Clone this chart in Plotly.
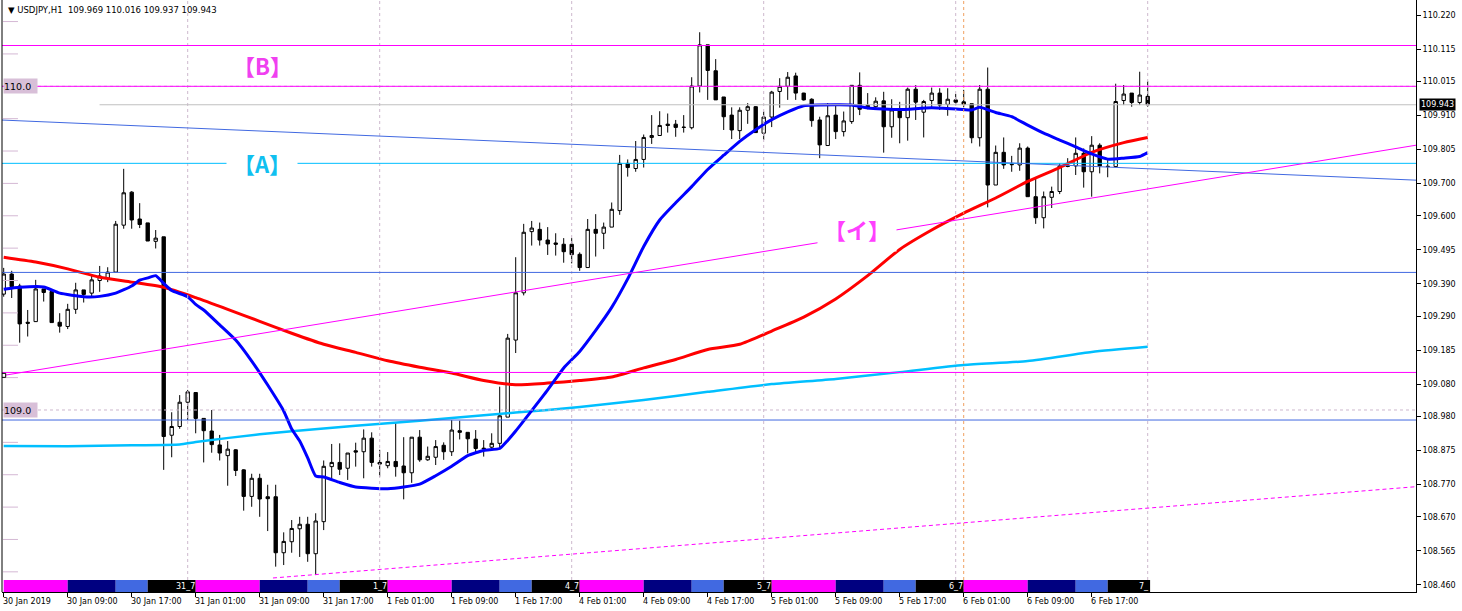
import plotly.graph_objects as go

# ---------------- data ----------------
BARS = list(range(144))  # H1 bars: 0 = 30 Jan 01:00 ... 143 = 7 Feb 00:00

OPEN = [109.358, 109.420, 109.383, 109.271, 109.273, 109.374, 109.366, 109.271, 109.258, 109.311,
        109.371, 109.361, 109.400, 109.407, 109.426, 109.571, 109.673, 109.590, 109.578, 109.521,
        109.535, 108.922, 108.949, 109.024, 109.054, 108.974, 108.935, 108.892, 108.859, 108.877,
        108.815, 108.733, 108.789, 108.732, 108.732, 108.559, 108.593, 108.633, 108.647, 108.556,
        108.655, 108.825, 108.838, 108.820, 108.874, 108.871, 108.913, 108.838, 108.828, 108.841,
        108.827, 108.806, 108.916, 108.846, 108.854, 108.891, 108.871, 108.936, 108.931, 108.910,
        108.882, 108.885, 108.897, 108.978, 109.216, 109.362, 109.551, 109.558, 109.525, 109.516,
        109.512, 109.512, 109.481, 109.440, 109.558, 109.546, 109.565, 109.616, 109.762, 109.746,
        109.774, 109.842, 109.848, 109.883, 109.883, 109.874, 109.872, 110.001, 110.128, 110.048,
        109.967, 109.911, 109.863, 109.926, 109.937, 109.855, 109.905, 109.984, 110.000, 110.032,
        109.979, 109.960, 109.896, 109.817, 109.911, 109.860, 109.891, 110.003, 109.941, 109.937,
        109.955, 109.875, 109.927, 109.903, 109.991, 109.920, 109.956, 109.979, 109.944, 109.958,
        109.952, 109.946, 109.841, 109.991, 109.695, 109.796, 109.759, 109.757, 109.809, 109.659,
        109.594, 109.657, 109.675, 109.754, 109.754, 109.793, 109.736, 109.818, 109.753, 109.752,
        109.956, 109.979, 109.950, 109.969]
HIGH = [109.439, 109.430, 109.390, 109.309, 109.402, 109.374, 109.366, 109.299, 109.328, 109.393,
        109.371, 109.417, 109.445, 109.441, 109.584, 109.745, 109.676, 109.639, 109.578, 109.556,
        109.535, 108.993, 109.046, 109.062, 109.054, 108.974, 109.000, 108.923, 108.904, 108.879,
        108.817, 108.803, 108.803, 108.769, 108.769, 108.622, 108.660, 108.670, 108.670, 108.681,
        108.844, 108.895, 108.897, 108.867, 108.899, 108.940, 108.931, 108.877, 108.870, 108.961,
        108.916, 108.916, 108.938, 108.887, 108.907, 108.900, 108.969, 108.967, 108.931, 108.938,
        108.907, 108.928, 109.072, 109.235, 109.472, 109.575, 109.584, 109.579, 109.565, 109.546,
        109.531, 109.531, 109.487, 109.590, 109.605, 109.579, 109.641, 109.788, 109.774, 109.831,
        109.851, 109.911, 109.923, 109.916, 109.896, 109.911, 110.028, 110.167, 110.128, 110.084,
        109.967, 109.935, 109.935, 109.948, 109.939, 109.922, 109.986, 110.025, 110.044, 110.042,
        109.980, 109.963, 109.906, 109.948, 109.942, 109.922, 110.003, 110.043, 109.979, 109.966,
        109.983, 109.960, 109.952, 109.996, 110.004, 109.958, 109.996, 109.994, 109.994, 109.976,
        109.989, 109.946, 110.004, 110.058, 109.817, 109.842, 109.785, 109.824, 109.814, 109.716,
        109.675, 109.690, 109.762, 109.778, 109.842, 109.808, 109.846, 109.824, 109.772, 110.008,
        110.004, 109.979, 110.045, 110.016]
LOW = [109.350, 109.346, 109.208, 109.227, 109.272, 109.335, 109.270, 109.239, 109.250, 109.297,
       109.332, 109.350, 109.365, 109.395, 109.426, 109.560, 109.560, 109.562, 109.522, 109.499,
       108.815, 108.854, 108.942, 108.969, 108.928, 108.838, 108.868, 108.844, 108.766, 108.796,
       108.689, 108.701, 108.670, 108.626, 108.516, 108.521, 108.559, 108.546, 108.531, 108.490,
       108.629, 108.787, 108.799, 108.784, 108.825, 108.789, 108.825, 108.794, 108.820, 108.794,
       108.724, 108.775, 108.840, 108.843, 108.830, 108.846, 108.858, 108.909, 108.866, 108.866,
       108.856, 108.879, 108.879, 108.978, 109.176, 109.354, 109.508, 109.508, 109.479, 109.477,
       109.455, 109.453, 109.430, 109.440, 109.474, 109.497, 109.565, 109.603, 109.721, 109.736,
       109.749, 109.822, 109.848, 109.857, 109.844, 109.857, 109.867, 109.981, 109.958, 109.958,
       109.865, 109.837, 109.837, 109.884, 109.857, 109.834, 109.874, 109.934, 109.958, 109.958,
       109.956, 109.875, 109.778, 109.817, 109.837, 109.845, 109.884, 109.911, 109.929, 109.932,
       109.795, 109.841, 109.824, 109.832, 109.896, 109.842, 109.935, 109.927, 109.909, 109.942,
       109.935, 109.824, 109.814, 109.626, 109.695, 109.745, 109.736, 109.739, 109.659, 109.575,
       109.561, 109.624, 109.667, 109.750, 109.726, 109.687, 109.659, 109.731, 109.719, 109.750,
       109.942, 109.937, 109.942, 109.937]
CLOSE = [109.420, 109.381, 109.266, 109.268, 109.374, 109.363, 109.270, 109.259, 109.311, 109.371,
         109.357, 109.402, 109.414, 109.426, 109.574, 109.671, 109.587, 109.573, 109.522, 109.531,
         108.918, 108.949, 109.024, 109.056, 108.974, 108.936, 108.893, 108.867, 108.879, 108.813,
         108.733, 108.789, 108.725, 108.726, 108.559, 108.594, 108.634, 108.647, 108.556, 108.657,
         108.826, 108.838, 108.817, 108.867, 108.870, 108.913, 108.838, 108.833, 108.841, 108.825,
         108.806, 108.916, 108.846, 108.857, 108.887, 108.871, 108.938, 108.931, 108.911, 108.881,
         108.880, 108.897, 108.982, 109.222, 109.362, 109.549, 109.562, 109.525, 109.513, 109.512,
         109.489, 109.480, 109.440, 109.558, 109.546, 109.565, 109.620, 109.762, 109.749, 109.774,
         109.842, 109.848, 109.879, 109.879, 109.873, 109.873, 110.001, 110.128, 110.049, 109.958,
         109.906, 109.865, 109.926, 109.937, 109.857, 109.905, 109.982, 110.000, 110.028, 109.979,
         109.958, 109.894, 109.819, 109.909, 109.860, 109.893, 110.003, 109.929, 109.937, 109.954,
         109.875, 109.927, 109.903, 109.991, 109.951, 109.953, 109.979, 109.942, 109.960, 109.951,
         109.944, 109.841, 109.991, 109.695, 109.796, 109.757, 109.758, 109.809, 109.659, 109.594,
         109.659, 109.675, 109.754, 109.753, 109.793, 109.736, 109.818, 109.754, 109.752, 109.953,
         109.976, 109.950, 109.973, 109.943]

# moving averages at selected bars
RED_BARS = [0, 4, 8, 12, 16, 20, 24, 28, 32, 36, 40, 44, 48, 52, 56, 60, 64, 68, 72, 76, 80, 84,
            88, 92, 96, 100, 104, 108, 112, 116, 120, 124, 128, 132, 136, 140, 143]
RED_MA = [109.472, 109.457, 109.436, 109.410, 109.395, 109.379, 109.347, 109.311, 109.274, 109.237,
          109.203, 109.178, 109.152, 109.132, 109.114, 109.091, 109.078, 109.083, 109.091, 109.102,
          109.130, 109.156, 109.187, 109.203, 109.244, 109.287, 109.343, 109.415, 109.496, 109.556,
          109.608, 109.655, 109.706, 109.749, 109.796, 109.826, 109.842]

BLUE_BARS = [0, 2, 5, 7, 10, 12, 14, 16, 17, 18, 19, 20, 21, 23, 24, 25, 27, 29, 31, 33, 35, 36,
             37, 38, 39, 40, 42, 44, 48, 50, 52, 54, 56, 58, 60, 62, 63, 64, 66, 68, 70, 72, 74,
             76, 78, 80, 82, 84, 86, 88, 90, 92, 94, 96, 98, 100, 104, 106, 108, 112, 116, 120,
             121, 122, 124, 126, 128, 130, 132, 134, 136, 138, 140, 142, 143]
BLUE_MA = [109.373, 109.379, 109.380, 109.361, 109.350, 109.351, 109.361, 109.383, 109.401, 109.408,
           109.415, 109.391, 109.369, 109.350, 109.326, 109.309, 109.263, 109.216, 109.151, 109.077,
           108.997, 108.941, 108.904, 108.852, 108.796, 108.793, 108.776, 108.762, 108.757, 108.762,
           108.771, 108.797, 108.826, 108.859, 108.875, 108.881, 108.906, 108.935, 108.998, 109.062,
           109.130, 109.181, 109.246, 109.317, 109.405, 109.505, 109.587, 109.640, 109.690, 109.743,
           109.787, 109.830, 109.866, 109.897, 109.921, 109.940, 109.943, 109.942, 109.933, 109.928,
           109.934, 109.928, 109.927, 109.935, 109.919, 109.906, 109.880, 109.855, 109.834, 109.813,
           109.791, 109.775, 109.778, 109.783, 109.795]

CYAN_BARS = [0, 8, 16, 22, 24, 32, 40, 48, 56, 64, 72, 80, 88, 96, 104, 112, 120, 128, 136, 143]
CYAN_MA = [108.889, 108.888, 108.891, 108.893, 108.901, 108.925, 108.943, 108.959, 108.975, 108.992,
           109.009, 109.031, 109.056, 109.080, 109.096, 109.117, 109.139, 109.151, 109.179, 109.195]

X_TICK_BARS = list(range(0, 137, 8))
X_TICK_LABELS = ["30 Jan 2019", "30 Jan 09:00", "30 Jan 17:00", "31 Jan 01:00", "31 Jan 09:00",
                 "31 Jan 17:00", "1 Feb 01:00", "1 Feb 09:00", "1 Feb 17:00", "4 Feb 01:00",
                 "4 Feb 09:00", "4 Feb 17:00", "5 Feb 01:00", "5 Feb 09:00", "5 Feb 17:00",
                 "6 Feb 01:00", "6 Feb 09:00", "6 Feb 17:00"]
Y_TICK_LABELS = ["110.220", "110.115", "110.015", "109.910", "109.805", "109.700", "109.600",
                 "109.495", "109.390", "109.290", "109.185", "109.080", "108.980", "108.875",
                 "108.770", "108.670", "108.565", "108.460"]
Y_TICK_VALUES = [float(s) for s in Y_TICK_LABELS]

TITLE = "\u25bc USDJPY,H1\u00a0\u00a0109.969 110.016 109.937 109.943"
BID = 109.943

# horizontal objects: (price, colour)
H_LINES = [(110.126, "#FF00FF"), (110.000, "#FF00FF"), (109.762, "#00BFFF"),
           (109.425, "#4169E1"), (109.116, "#FF00FF"), (108.969, "#4169E1")]
GRID_LEVELS = [110.0, 109.0]
MINOR_LEVELS = [110.2, 110.1, 109.9, 109.8, 109.7, 109.6, 109.5, 109.4, 109.3, 109.2, 109.1,
                108.9, 108.8, 108.7, 108.6, 108.5]
# trend lines: (bar0, price0, bar1, price1, colour, dash)
TRENDS = [(-0.46, 109.896, 176.54, 109.710, "#4169E1", "solid"),
          (-0.46, 109.105, 176.54, 109.818, "#FF00FF", "solid"),
          (33.66, 108.481, 176.54, 108.763, "#FF00FF", "4px,3px")]
DAY_SEP_BARS = [23, 47, 71, 95, 119, 143]
VLINE_BAR = 120

SESSION_BLOCKS = [(0, 8, "#FF00FF"), (8, 14, "#000080"), (14, 18, "#4169E1"), (18, 24, "#000000"),
                  (24, 32, "#FF00FF"), (32, 38, "#000080"), (38, 42, "#4169E1"), (42, 48, "#000000"),
                  (48, 56, "#FF00FF"), (56, 62, "#000080"), (62, 66, "#4169E1"), (66, 72, "#000000"),
                  (72, 80, "#FF00FF"), (80, 86, "#000080"), (86, 90, "#4169E1"), (90, 96, "#000000"),
                  (96, 104, "#FF00FF"), (104, 110, "#000080"), (110, 114, "#4169E1"), (114, 120, "#000000"),
                  (120, 128, "#FF00FF"), (128, 134, "#000080"), (134, 138, "#4169E1"), (138, 143.3, "#000000")]
SESSION_LABELS = [(24, "31_7"), (48, "1_7"), (72, "4_7"), (96, "5_7"), (120, "6_7"), (143.3, "7_")]

# ---------------- figure ----------------
W, H = 1462, 611
ML, MR, MT, MB = 2, 46, 0, 19
X_RANGE = [-0.2125, 176.5375]
Y_RANGE = [108.4377, 110.2666]
FONT = "DejaVu Sans"

fig = go.Figure()

fig.add_trace(go.Candlestick(
    x=BARS, open=OPEN, high=HIGH, low=LOW, close=CLOSE,
    increasing=dict(fillcolor="#FFFFFF", line=dict(color="#000000", width=1)),
    decreasing=dict(fillcolor="#000000", line=dict(color="#000000", width=1)),
    whiskerwidth=0, showlegend=False, hoverinfo="skip"))

fig.add_trace(go.Scatter(x=CYAN_BARS, y=CYAN_MA, mode="lines",
                         line=dict(color="#00BFFF", width=2.5, shape="spline", smoothing=0.6),
                         showlegend=False, hoverinfo="skip"))
fig.add_trace(go.Scatter(x=RED_BARS, y=RED_MA, mode="lines",
                         line=dict(color="#FF0000", width=3, shape="spline", smoothing=0.6),
                         showlegend=False, hoverinfo="skip"))
fig.add_trace(go.Scatter(x=BLUE_BARS, y=BLUE_MA, mode="lines",
                         line=dict(color="#0000FF", width=3, shape="spline", smoothing=0.5),
                         showlegend=False, hoverinfo="skip"))

shapes = []
# day separators and grid
for b in DAY_SEP_BARS:
    shapes.append(dict(type="line", xref="x", yref="paper", x0=b, x1=b, y0=0, y1=1,
                       line=dict(color="#CDB8CD", width=1, dash="3px,3px")))
shapes.append(dict(type="line", xref="x", yref="paper", x0=VLINE_BAR, x1=VLINE_BAR, y0=0, y1=1,
                   line=dict(color="#F0A060", width=1, dash="3px,3px")))
for lv in GRID_LEVELS:
    shapes.append(dict(type="line", xref="paper", yref="y", x0=0, x1=1, y0=lv, y1=lv,
                       line=dict(color="#CDB8CD", width=1, dash="3px,3px")))
for lv in MINOR_LEVELS:
    shapes.append(dict(type="line", xref="paper", yref="y", x0=0.0007, x1=0.0113, y0=lv, y1=lv,
                       line=dict(color="#D4B8D4", width=1)))
# bid line
shapes.append(dict(type="line", xref="paper", yref="y", x0=0.069, x1=1, y0=BID, y1=BID,
                   line=dict(color="#C0C0C0", width=1)))
# horizontal objects
for lv, col in H_LINES:
    shapes.append(dict(type="line", xref="paper", yref="y", x0=0, x1=1, y0=lv, y1=lv,
                       line=dict(color=col, width=1)))
# trend lines
for b0, p0, b1, p1, col, dash in TRENDS:
    shapes.append(dict(type="line", xref="x", yref="y", x0=b0, x1=b1, y0=p0, y1=p1,
                       line=dict(color=col, width=1, dash=dash)))
# trend-line anchor squares
for b, p in [(0.0, 109.107)]:
    shapes.append(dict(type="rect", xref="x", yref="y", xsizemode="pixel", ysizemode="pixel",
                       xanchor=b, yanchor=p, x0=-2, x1=2, y0=-2, y1=2,
                       fillcolor="#FFFFFF", line=dict(color="#000000", width=1)))
# session strip
strip_h = 12 / 592
for b0, b1, col in SESSION_BLOCKS:
    shapes.append(dict(type="rect", xref="x", yref="paper", x0=b0, x1=b1, y0=0, y1=strip_h,
                       fillcolor=col, line=dict(width=0), layer="above"))
# left border
shapes.append(dict(type="line", xref="paper", yref="paper", x0=0, x1=0, y0=0, y1=1,
                   line=dict(color="#000000", width=1)))

annotations = []
annotations.append(dict(text=TITLE, xref="paper", yref="paper", x=0, y=1, xanchor="left",
                        yanchor="top", xshift=4, yshift=-3, showarrow=False,
                        font=dict(family=FONT, size=8.5, color="#000000")))
for b, lab in zip(X_TICK_BARS, X_TICK_LABELS):
    annotations.append(dict(text=lab, xref="x", yref="paper", x=b, y=0, xanchor="left",
                            yanchor="top", xshift=-3, yshift=-3, showarrow=False,
                            font=dict(family=FONT, size=8, color="#000000")))
for b, lab in SESSION_LABELS:
    annotations.append(dict(text=lab, xref="x", yref="paper", x=b, y=strip_h / 2, xanchor="right",
                            yanchor="middle", xshift=1, showarrow=False,
                            font=dict(family=FONT, size=8, color="#FFFFFF")))
for lv in GRID_LEVELS:
    annotations.append(dict(text="%.1f" % lv, xref="paper", yref="y", x=0, y=lv, xanchor="left",
                            yanchor="middle", xshift=1, showarrow=False, width=33, height=14,
                            align="left", bgcolor="#D8BFD8", borderpad=0,
                            font=dict(family=FONT, size=9.5, color="#000000")))
annotations.append(dict(text="%.3f" % BID, xref="paper", yref="y", x=1, y=BID, xanchor="left",
                        yanchor="middle", xshift=3, showarrow=False, bgcolor="#000000",
                        borderpad=1, font=dict(family=FONT, size=8, color="#FFFFFF")))
CJK = "Noto Sans CJK JP"
annotations.append(dict(text="<b>【B】</b>", xref="x", yref="y", x=32.4, y=110.066, showarrow=False,
                        font=dict(family=CJK, size=22, color="#F040F0")))
annotations.append(dict(text="<b>【A】</b>", xref="x", yref="y", x=32.3, y=109.762, showarrow=False,
                        bgcolor="#FFFFFF", borderpad=6,
                        font=dict(family=CJK, size=22, color="#10C0F0")))
annotations.append(dict(text="<b>【イ】</b>", xref="x", yref="y", x=106.7, y=109.559, showarrow=False,
                        bgcolor="#FFFFFF", borderpad=6,
                        font=dict(family=CJK, size=22, color="#FF40FF")))

fig.update_layout(
    width=W, height=H, margin=dict(l=ML, r=MR, t=MT, b=MB),
    paper_bgcolor="#FFFFFF", plot_bgcolor="#FFFFFF",
    showlegend=False, boxgap=0.4, hovermode=False,
    shapes=shapes, annotations=annotations,
    xaxis=dict(range=X_RANGE, showgrid=False, zeroline=False, showline=True, linecolor="#000000",
               linewidth=1, ticks="outside", ticklen=4, tickcolor="#000000", tickvals=X_TICK_BARS,
               showticklabels=False, rangeslider=dict(visible=False), fixedrange=True),
    yaxis=dict(range=Y_RANGE, side="right", showgrid=False, zeroline=False, showline=True,
               linecolor="#000000", linewidth=1, ticks="outside", ticklen=4, tickcolor="#000000",
               tickvals=Y_TICK_VALUES, ticktext=Y_TICK_LABELS,
               tickfont=dict(family=FONT, size=8, color="#000000"), fixedrange=True),
)

fig.write_html("out.html", config=dict(displayModeBar=False),
               post_script="document.body.style.margin='0';document.body.style.padding='0';"
                           "document.body.style.overflow='hidden';")
